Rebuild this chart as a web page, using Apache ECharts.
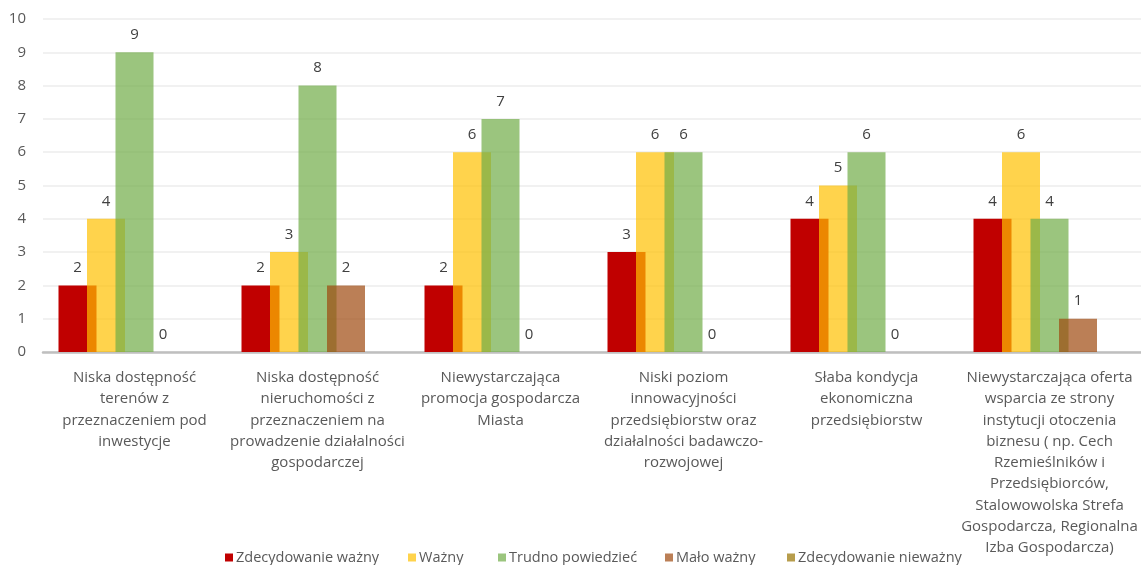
<!DOCTYPE html>
<html>
<head>
<meta charset="utf-8">
<style>
html,body{margin:0;padding:0;background:#fff;}
#chart{width:1141px;height:565px;}
</style>
<script src="https://cdn.jsdelivr.net/npm/echarts@6/dist/echarts.min.js"></script>
</head>
<body>
<div id="chart"></div>
<script>
const categories = [
  "Niska dostępność\nterenów z\nprzeznaczeniem pod\ninwestycje",
  "Niska dostępność\nnieruchomości z\nprzeznaczeniem na\nprowadzenie działalności\ngospodarczej",
  "Niewystarczająca\npromocja gospodarcza\nMiasta",
  "Niski poziom\ninnowacyjności\nprzedsiębiorstw oraz\ndziałalności badawczo-\nrozwojowej",
  "Słaba kondycja\nekonomiczna\nprzedsiębiorstw",
  "Niewystarczająca oferta\nwsparcia ze strony\ninstytucji otoczenia\nbiznesu ( np. Cech\nRzemieślników i\nPrzedsiębiorców,\nStalowowolska Strefa\nGospodarcza, Regionalna\nIzba Gospodarcza)"
];
const seriesNames = ["Zdecydowanie ważny", "Ważny", "Trudno powiedzieć", "Mało ważny", "Zdecydowanie nieważny"];
const zdecydowanieWazny = [2, 2, 2, 3, 4, 4];
const wazny = [4, 3, 6, 6, 5, 6];
const trudnoPowiedziec = [9, 8, 7, 6, 6, 4];
const maloWazny = [0, 2, 0, 0, 0, 1];
const zdecydowanieNiewazny = [null, null, null, null, null, null];
const yTicks = [0, 1, 2, 3, 4, 5, 6, 7, 8, 9, 10];

const values = [zdecydowanieWazny, wazny, trudnoPowiedziec, maloWazny, zdecydowanieNiewazny];
const colors = ["rgba(192,0,0,1)", "rgba(255,192,0,0.7)", "rgba(112,173,71,0.7)", "rgba(158,72,14,0.7)", "rgba(153,115,0,0.7)"];
const legendLeft = [225, 408, 498, 665, 787];
const FONT = "Open Sans";

const chart = echarts.init(document.getElementById('chart'));
chart.setOption({
  animation: false,
  textStyle: {fontFamily: FONT},
  grid: {left: 43, right: 0, top: 19, bottom: 213, containLabel: false},
  legend: seriesNames.map((n, i) => ({
    data: [n],
    top: 550, left: legendLeft[i], padding: 0,
    icon: 'rect', itemWidth: 8, itemHeight: 8,
    textStyle: {color: '#595959', fontSize: 14.5, fontFamily: FONT, padding: [0, 0, 0, -2]}
  })),
  xAxis: {
    type: 'category',
    data: categories,
    axisLine: {lineStyle: {color: '#BFBFBF', width: 2.5}},
    axisTick: {show: false},
    axisLabel: {interval: 0, color: '#595959', fontSize: 15, lineHeight: 21.3, margin: 15, fontFamily: FONT, align: 'center'}
  },
  yAxis: {
    type: 'value', min: yTicks[0], max: yTicks[yTicks.length - 1], interval: 1,
    axisLine: {show: false}, axisTick: {show: false},
    splitLine: {lineStyle: {color: '#ECECEC', width: 1.5}},
    axisLabel: {color: '#595959', fontSize: 15, margin: 17, fontFamily: FONT}
  },
  color: colors,
  series: values.map((v, i) => ({
    name: seriesNames[i],
    type: 'bar',
    data: v,
    barWidth: 38,
    barGap: '-25%',
    itemStyle: {color: colors[i]},
    label: {show: true, position: 'top', distance: 10, color: '#404040', fontSize: 15, fontFamily: FONT}
  }))
});
</script>
</body>
</html>
